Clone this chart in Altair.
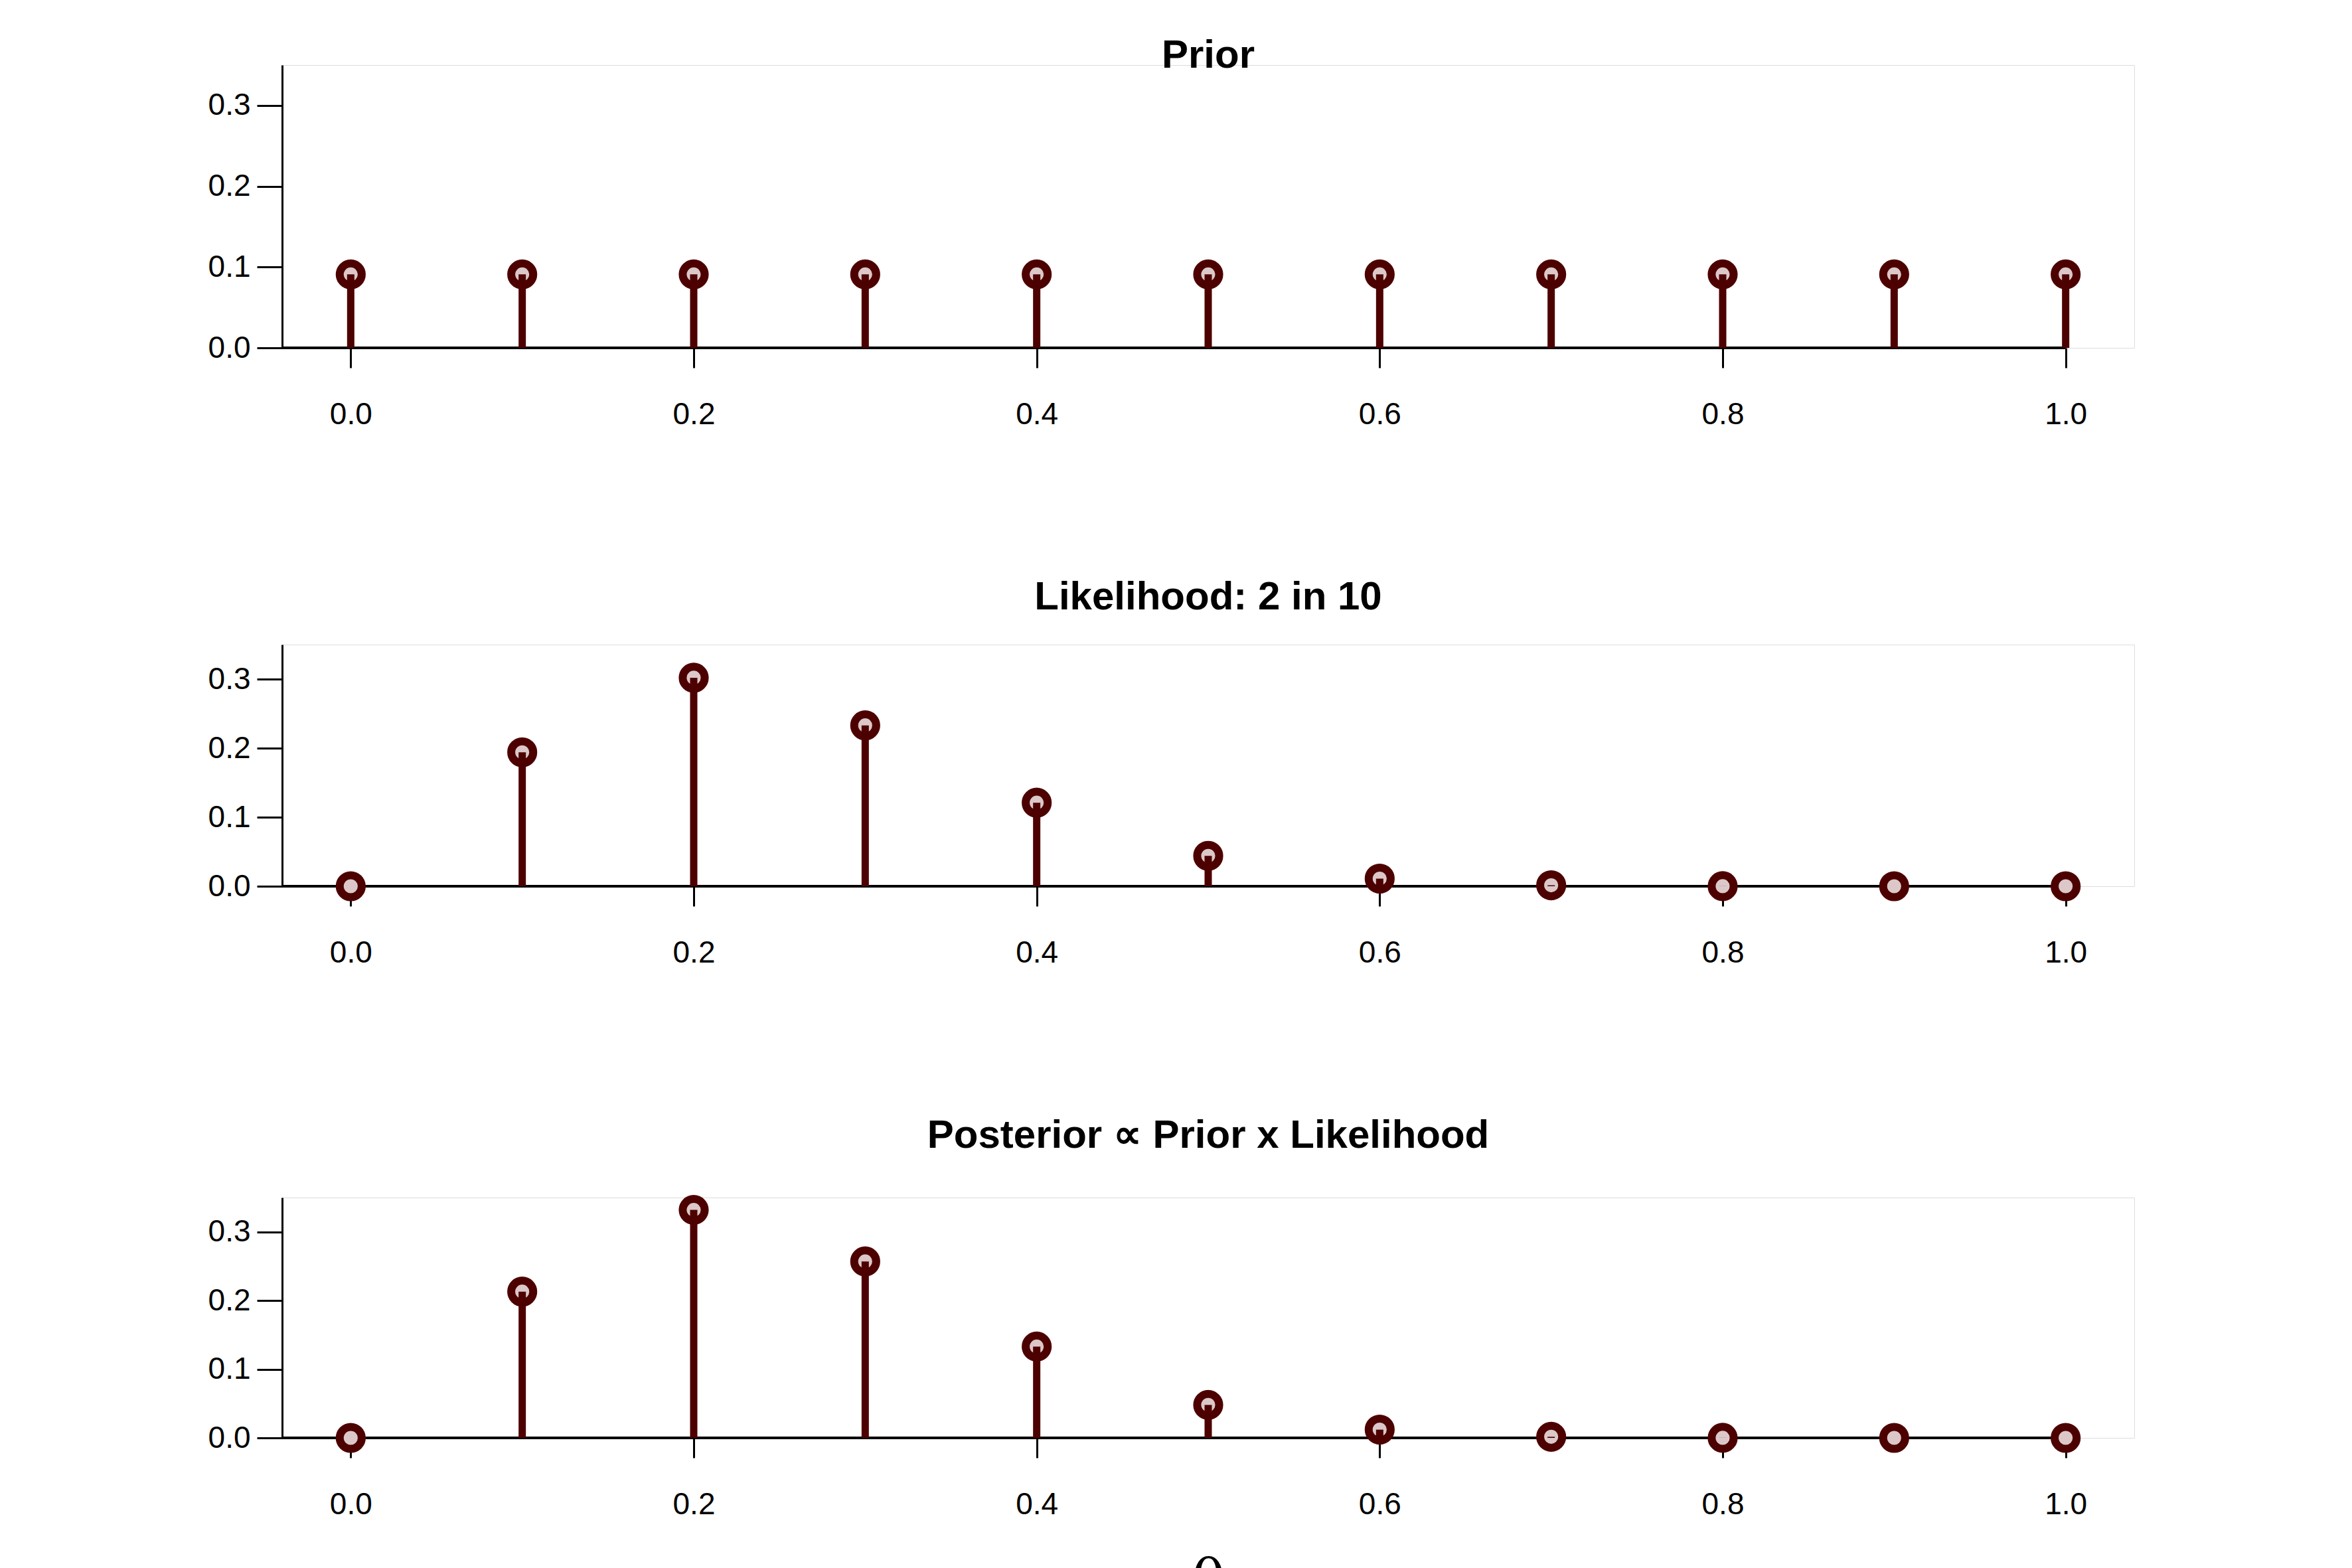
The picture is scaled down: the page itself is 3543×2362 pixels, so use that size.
import altair as alt
import pandas as pd

theta = [0.0, 0.1, 0.2, 0.3, 0.4, 0.5, 0.6, 0.7, 0.8, 0.9, 1.0]
prior = [0.0909, 0.0909, 0.0909, 0.0909, 0.0909, 0.0909, 0.0909, 0.0909, 0.0909, 0.0909, 0.0909]
likelihood = [0.0, 0.194, 0.302, 0.233, 0.121, 0.044, 0.011, 0.0014, 0.0001, 0.0, 0.0]
posterior = [0.0, 0.213, 0.332, 0.257, 0.133, 0.048, 0.012, 0.0016, 0.0001, 0.0, 0.0]
titles = ["Prior", "Likelihood: 2 in 10", "Posterior \u221d Prior x Likelihood"]
heights = [426, 364, 362]
title_offsets = [-17, 40, 40]

DARK = "#4d0000"
FILL = "#dcc8c8"
W = 2790

def panel(vals, title, h, off, last):
    df = pd.DataFrame({"theta": theta, "p": vals, "zero": [0.0] * len(theta)})
    xax = alt.Axis(values=[0, 0.2, 0.4, 0.6, 0.8, 1.0], format=".1f", domain=False, grid=False,
                   tickSize=30, tickWidth=3, tickColor="black", labelFontSize=46, labelPadding=48,
                   labelFont="Liberation Sans", labelColor="black",
                   title="\u03b8" if last else None, titleFont="DejaVu Serif", titleFontSize=84,
                   titleFontWeight="normal", titlePadding=52, titleColor="black")
    yax = alt.Axis(values=[0, 0.1, 0.2, 0.3], format=".1f", grid=False, domainColor="black",
                   domainWidth=3, tickSize=38, tickWidth=3, tickColor="black", labelFontSize=46,
                   labelPadding=10, labelFont="Liberation Sans", labelColor="black", title=None)
    xs = alt.Scale(domain=[-0.04, 1.04], nice=False, zero=False)
    ys = alt.Scale(domain=[0, 0.35], nice=False)
    x = alt.X("theta:Q", scale=xs, axis=xax)
    y = alt.Y("p:Q", scale=ys, axis=yax)
    base = alt.Chart(df)
    baseline = alt.Chart(pd.DataFrame({"a": [-0.04], "b": [1.0], "z": [0.0]})).mark_rule(
        color="black", strokeWidth=4).encode(
        x=alt.X("a:Q", scale=xs, axis=xax), x2="b:Q", y=alt.Y("z:Q", scale=ys, axis=yax))
    pts = base.mark_point(shape="circle", filled=False, fill=FILL, fillOpacity=1, stroke=DARK,
                          strokeWidth=12, size=1100, opacity=1).encode(x=x, y=y)
    stems = base.mark_rule(color=DARK, strokeWidth=11).encode(x=x, y=y, y2="zero:Q")
    return alt.layer(baseline, pts, stems).properties(
        width=W, height=h,
        title=alt.TitleParams(title, fontSize=60, fontWeight="bold", font="Liberation Sans",
                              anchor="middle", offset=off, color="black"))

chart = alt.vconcat(*[panel(v, t, h, o, i == 2) for i, (v, t, h, o) in
                      enumerate(zip([prior, likelihood, posterior], titles, heights, title_offsets))],
                    spacing=221).properties(
    padding={"left": 304, "top": 45, "right": 20, "bottom": 10}
).configure_view(stroke="transparent", strokeOpacity=0).configure(background="white")

chart.save("out.html", embed_options={"renderer": "svg", "actions": False})
